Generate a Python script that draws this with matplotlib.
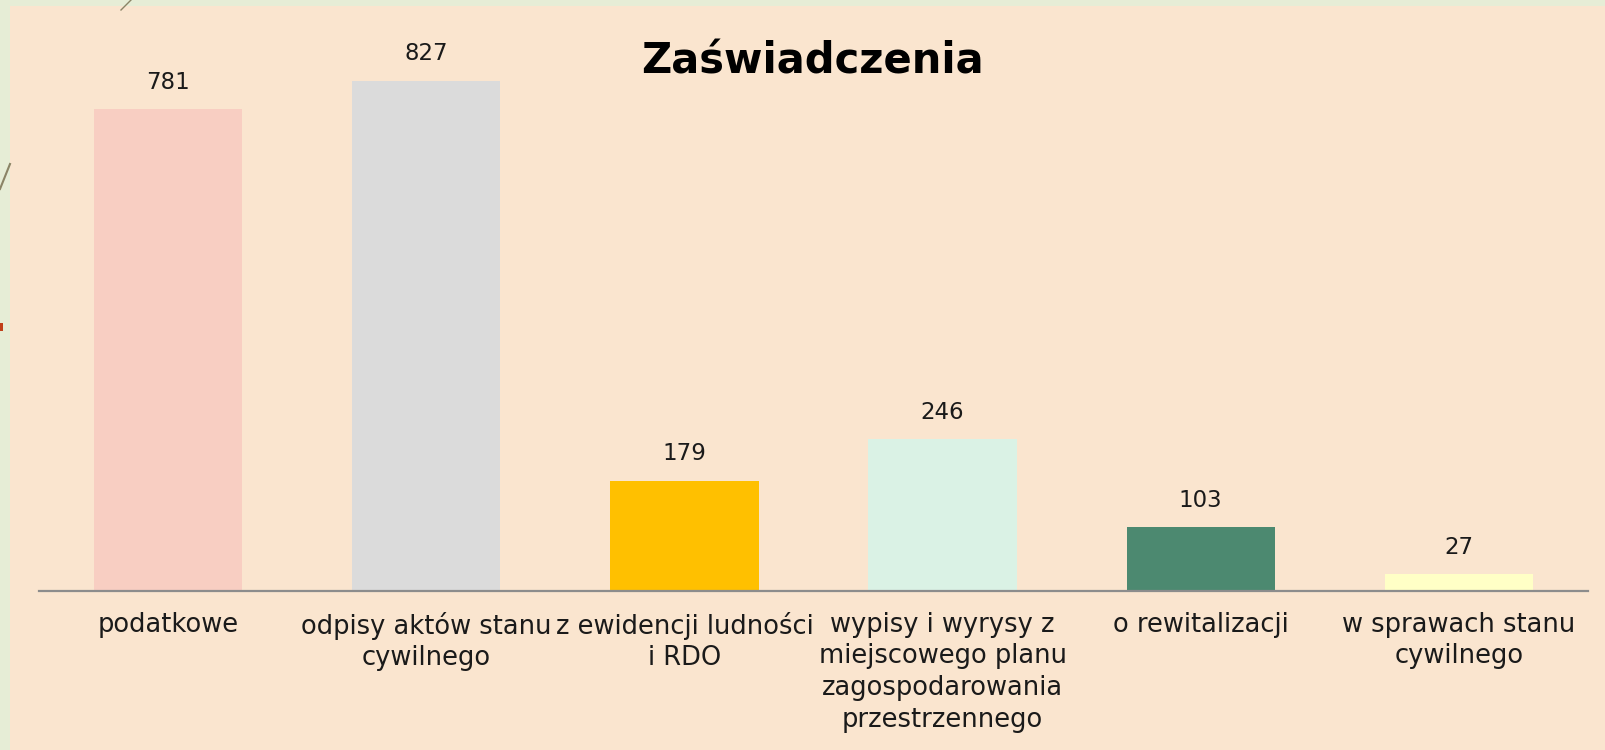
import matplotlib.pyplot as plt
from matplotlib.patches import Rectangle
from matplotlib.lines import Line2D

categories = ['podatkowe', 'odpisy aktów stanu\ncywilnego', 'z ewidencji ludności\ni RDO',
              'wypisy i wyrysy z\nmiejscowego planu\nzagospodarowania\nprzestrzennego',
              'o rewitalizacji', 'w sprawach stanu\ncywilnego']
values = [781, 827, 179, 246, 103, 27]
colors = ['#F8CEC2', '#DBDBDB', '#FFC000', '#DAF2E5', '#4C8970', '#FFFFC6']

plt.rcParams['font.family'] = ['DejaVu Sans']
W, H = 1605, 750
fig = plt.figure(figsize=(W / 100, H / 100), dpi=100)
fig.patch.set_facecolor('#E6EDD6')

# slide panel
fig.patches.append(Rectangle((10 / W, 0), 1 - 10 / W, 1 - 6 / H, transform=fig.transFigure,
                             facecolor='#FAE5CF', edgecolor='none', zorder=-5))
# small decorations on the left
fig.lines.append(Line2D([0, 10 / W], [1 - 189 / H, 1 - 164 / H], transform=fig.transFigure,
                        color='#8A8466', lw=1.5, zorder=-4))
fig.lines.append(Line2D([121 / W, 131 / W], [1 - 10 / H, 1], transform=fig.transFigure,
                        color='#8A8466', lw=1, zorder=-4))
fig.patches.append(Rectangle((0, 1 - 331 / H), 3 / W, 8 / H, transform=fig.transFigure,
                             facecolor='#C0401A', edgecolor='none', zorder=-4))

ax = fig.add_axes([39 / W, 1 - 591 / H, 1549 / W, 585 / H])
ax.set_facecolor('none')
x = range(len(values))
bars = ax.bar(x, values, width=0.575, color=colors, zorder=2)
ax.set_xlim(-0.5, len(values) - 0.5)
ax.set_ylim(0, 948)
for i, v in enumerate(values):
    ax.annotate(str(v), (i, v), xytext=(0, 27), textcoords='offset pixels',
                ha='center', va='center', fontsize=16.5, color='#1a1a1a')

for s in ['top', 'right', 'left']:
    ax.spines[s].set_visible(False)
ax.spines['bottom'].set_color('#8C8C8C')
ax.spines['bottom'].set_linewidth(1.6)
ax.set_yticks([])
ax.set_xticks(list(x))
ax.set_xticklabels(categories, fontsize=18.5, color='#1a1a1a', linespacing=1.28, va='top')
ax.tick_params(axis='x', length=0, pad=15)

fig.text(812 / W, 1 - 61 / H, 'Zaświadczenia', ha='center', va='center',
         fontsize=30, fontweight='bold', color='black')

fig.savefig('out.png', dpi=100, facecolor=fig.get_facecolor())
